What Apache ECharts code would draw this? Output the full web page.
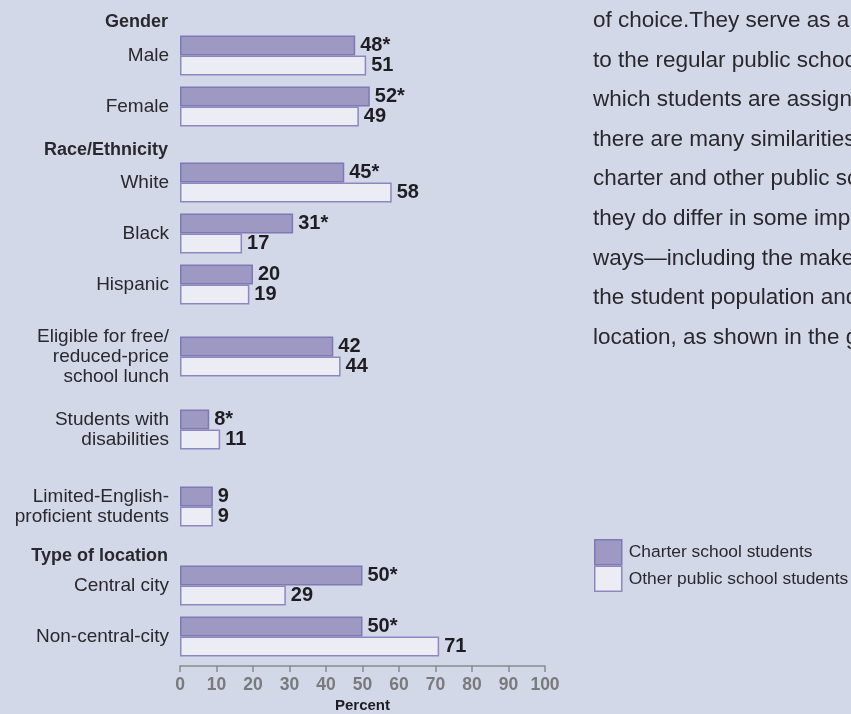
<!DOCTYPE html>
<html>
<head>
<meta charset="utf-8">
<title>Charter and other public school students</title>
<script src="https://cdn.jsdelivr.net/npm/echarts@6/dist/echarts.min.js"></script>
<style>
  html, body { margin: 0; padding: 0; background: #d3d8e9; }
  #chart { width: 851px; height: 714px; }
</style>
</head>
<body>
<div id="chart"></div>
<script>
// chart data
var categories = [
  'Male', 'Female',
  'White', 'Black', 'Hispanic',
  'Eligible for free/\nreduced-price\nschool lunch',
  'Students with\ndisabilities',
  'Limited-English-\nproficient students',
  'Central city', 'Non-central-city'
];
var charterValues = [48, 52, 45, 31, 20, 42, 8, 9, 50, 50];
var otherValues = [51, 49, 58, 17, 19, 44, 11, 9, 29, 71];
// 1 = difference marked with an asterisk
var charterSignificant = [1, 1, 1, 1, 0, 0, 1, 0, 1, 1];
var groupTitles = ['Gender', 'Race/Ethnicity', '', '', '', 'Type of location'];
var groupSizes = [2, 3, 1, 1, 1, 2];
var seriesNames = ['Charter school students', 'Other public school students'];
var paragraph = [
  'of choice.They serve as alternatives',
  'to the regular public schools to',
  'which students are assigned. While',
  'there are many similarities between',
  'charter and other public schools,',
  'they do differ in some important',
  'ways\u2014including the makeup of',
  'the student population and their',
  'location, as shown in the graph.'
];

// layout
var gridTops = [30, 157, 331, 404, 481, 560];
var rowHeight = 51;
var titleY = [22, 150, 0, 0, 0, 556];
var textColor = '#2a282d';
var labelFont = 'Liberation Sans, Arial, sans-serif';

var myChart = echarts.init(document.getElementById('chart'));

var grids = [], xAxes = [], yAxes = [], series = [], graphics = [];
var offset = 0;
groupSizes.forEach(function (size, g) {
  var last = g === groupSizes.length - 1;
  var start = offset;
  grids.push({ left: 180, right: 306, top: gridTops[g], height: size * rowHeight });
  xAxes.push({
    gridIndex: g, type: 'value', min: 0, max: 100, interval: 10,
    show: last,
    offset: last ? 4 : 0,
    splitLine: { show: false },
    axisLine: { show: true, lineStyle: { color: '#8a8a8a', width: 1.5 } },
    axisTick: { show: true, length: 6, lineStyle: { color: '#8a8a8a', width: 1.5 } },
    axisLabel: { margin: 10, color: '#7a7a7a', fontWeight: 'bold', fontSize: 17.5, fontFamily: labelFont },
    name: last ? 'Percent' : '',
    nameLocation: 'middle', nameGap: 32,
    nameTextStyle: { color: '#1f1d22', fontWeight: 'bold', fontSize: 15, fontFamily: labelFont }
  });
  yAxes.push({
    gridIndex: g, type: 'category', inverse: true,
    data: categories.slice(start, start + size),
    axisLine: { show: false }, axisTick: { show: false }, splitLine: { show: false },
    axisLabel: { margin: 11, color: textColor, fontSize: 19, lineHeight: 20, fontFamily: labelFont }
  });
  series.push({
    name: seriesNames[0], type: 'bar', xAxisIndex: g, yAxisIndex: g,
    data: charterValues.slice(start, start + size),
    barWidth: 20, barGap: '0%',
    itemStyle: { color: '#9d99c3', borderColor: '#7e78b5', borderWidth: 1.5 },
    label: {
      show: true, position: 'right', distance: 5,
      color: '#1f1d22', fontWeight: 'bold', fontSize: 20, fontFamily: labelFont,
      formatter: function (p) {
        return p.value + (charterSignificant[start + p.dataIndex] ? '*' : '');
      }
    }
  });
  series.push({
    name: seriesNames[1], type: 'bar', xAxisIndex: g, yAxisIndex: g,
    data: otherValues.slice(start, start + size),
    barWidth: 20, barGap: '0%',
    itemStyle: { color: '#ecedf4', borderColor: '#8d87c0', borderWidth: 1.5 },
    label: {
      show: true, position: 'right', distance: 5,
      color: '#1f1d22', fontWeight: 'bold', fontSize: 20, fontFamily: labelFont
    }
  });
  if (groupTitles[g]) {
    graphics.push({
      type: 'text', x: 168, y: titleY[g],
      style: {
        text: groupTitles[g], fill: textColor, align: 'right', verticalAlign: 'middle',
        font: 'bold 18px ' + labelFont
      }
    });
  }
  offset += size;
});

// text block on the right (runs off the edge like the page it was cut from)
graphics.push({
  type: 'text', x: 593, y: 1,
  style: {
    text: paragraph.join('\n'), fill: textColor, verticalAlign: 'top',
    font: '22.5px ' + labelFont, lineHeight: 39.6
  }
});

var options = {
  backgroundColor: '#d3d8e9',
  animation: false,
  grid: grids,
  xAxis: xAxes,
  yAxis: yAxes,
  series: series,
  graphic: graphics,
  legend: {
    orient: 'vertical', left: 589, top: 534,
    itemWidth: 27, itemHeight: 25, itemGap: 0,
    icon: 'rect',
    selectedMode: false,
    textStyle: { color: textColor, fontSize: 17.4, fontFamily: labelFont, padding: [0, 0, 0, 2] },
    data: [
      { name: seriesNames[0], itemStyle: { color: '#9d99c3', borderColor: '#7e78b5', borderWidth: 1.5 } },
      { name: seriesNames[1], itemStyle: { color: '#ecedf4', borderColor: '#8d87c0', borderWidth: 1.5 } }
    ]
  }
};
myChart.setOption(options);
</script>
</body>
</html>
